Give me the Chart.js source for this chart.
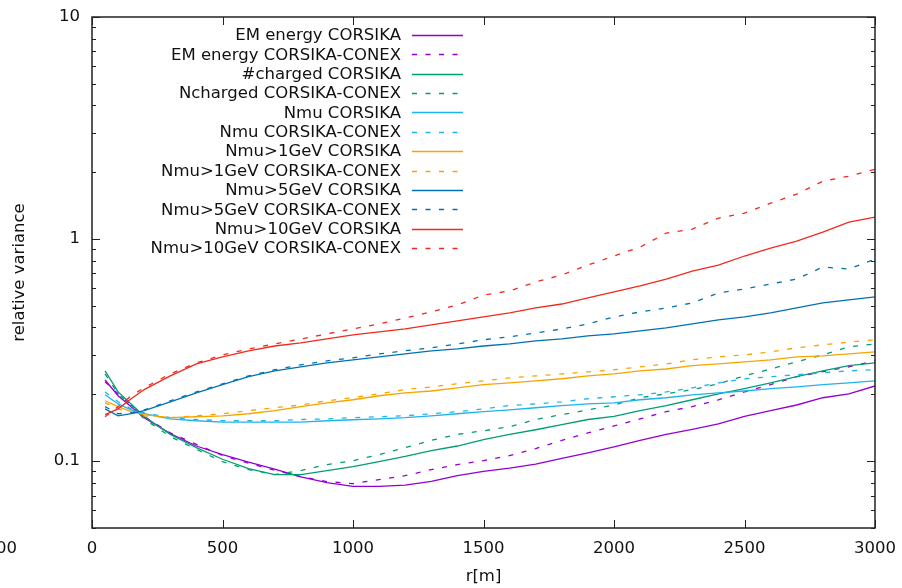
<!DOCTYPE html>
<html><head><meta charset="utf-8">
<script src="https://cdn.jsdelivr.net/npm/chart.js@4"></script>
<style>html,body{margin:0;padding:0;background:#fff}canvas{display:block}</style>
</head><body>
<canvas id="c" width="902" height="588"></canvas>
<script>
const radius = [50,100,150,200,300,400,500,600,700,800,900,1000,1100,1200,1300,1400,1500,1600,1700,1800,1900,2000,2100,2200,2300,2400,2500,2600,2700,2800,2900,3000];

const emCorsika      = [0.232,0.197,0.176,0.157,0.133,0.117,0.107,0.099,0.092,0.085,0.080,0.077,0.077,0.078,0.081,0.086,0.090,0.093,0.097,0.103,0.109,0.116,0.124,0.132,0.139,0.147,0.159,0.169,0.179,0.193,0.201,0.218];
const emConex        = [0.228,0.201,0.179,0.159,0.134,0.119,0.106,0.098,0.091,0.0852,0.0809,0.0792,0.0826,0.086,0.0916,0.0965,0.1005,0.106,0.114,0.124,0.134,0.144,0.155,0.167,0.176,0.189,0.205,0.221,0.240,0.253,0.266,0.283];
const chCorsika      = [0.255,0.205,0.181,0.159,0.132,0.115,0.102,0.0925,0.087,0.087,0.0907,0.0945,0.0995,0.105,0.1115,0.117,0.125,0.132,0.1385,0.146,0.154,0.159,0.169,0.178,0.189,0.201,0.212,0.225,0.240,0.255,0.269,0.277];
const chConex        = [0.247,0.201,0.178,0.155,0.129,0.113,0.0995,0.0916,0.087,0.0907,0.0965,0.1005,0.107,0.115,0.124,0.132,0.137,0.143,0.154,0.162,0.170,0.179,0.193,0.201,0.210,0.223,0.242,0.260,0.280,0.301,0.327,0.337];
const muCorsika      = [0.199,0.181,0.170,0.1635,0.155,0.152,0.150,0.150,0.150,0.150,0.152,0.1536,0.155,0.157,0.160,0.1635,0.167,0.170,0.174,0.178,0.181,0.183,0.189,0.193,0.199,0.203,0.207,0.212,0.216,0.221,0.225,0.230];
const muConex        = [0.205,0.185,0.172,0.165,0.157,0.154,0.152,0.152,0.152,0.154,0.155,0.157,0.1585,0.160,0.1635,0.167,0.172,0.178,0.181,0.185,0.191,0.195,0.199,0.205,0.214,0.225,0.235,0.240,0.245,0.250,0.255,0.258];
const mu1Corsika     = [0.187,0.176,0.167,0.162,0.157,0.1585,0.160,0.1635,0.169,0.176,0.183,0.189,0.197,0.203,0.207,0.214,0.221,0.225,0.230,0.235,0.242,0.247,0.255,0.260,0.269,0.274,0.280,0.286,0.295,0.298,0.304,0.3105];
const mu1Conex       = [0.183,0.172,0.165,0.160,0.157,0.160,0.1635,0.169,0.174,0.179,0.187,0.193,0.201,0.210,0.216,0.223,0.230,0.237,0.242,0.247,0.2525,0.258,0.266,0.274,0.286,0.295,0.301,0.3105,0.324,0.334,0.344,0.352];
const mu5Corsika     = [0.172,0.160,0.1635,0.169,0.185,0.203,0.221,0.240,0.255,0.266,0.277,0.286,0.295,0.304,0.314,0.320,0.330,0.337,0.348,0.355,0.3665,0.374,0.386,0.398,0.415,0.4325,0.446,0.465,0.4895,0.516,0.532,0.549];
const mu5Conex       = [0.176,0.1635,0.165,0.170,0.187,0.205,0.223,0.242,0.258,0.2715,0.283,0.292,0.304,0.314,0.324,0.337,0.352,0.363,0.378,0.394,0.415,0.446,0.470,0.4895,0.516,0.572,0.596,0.628,0.661,0.748,0.733,0.813];
const mu10Corsika    = [0.162,0.172,0.191,0.210,0.242,0.274,0.295,0.314,0.330,0.341,0.355,0.370,0.382,0.394,0.411,0.428,0.446,0.465,0.4895,0.510,0.543,0.578,0.615,0.661,0.718,0.764,0.839,0.911,0.980,1.075,1.192,1.256];
const mu10Conex      = [0.1585,0.176,0.197,0.214,0.247,0.277,0.301,0.320,0.337,0.355,0.374,0.394,0.415,0.441,0.470,0.505,0.560,0.584,0.641,0.689,0.764,0.839,0.920,1.064,1.109,1.243,1.309,1.451,1.593,1.823,1.919,2.064];

const seriesNames = ['EM energy CORSIKA','EM energy CORSIKA-CONEX','#charged CORSIKA','Ncharged CORSIKA-CONEX','Nmu CORSIKA','Nmu CORSIKA-CONEX','Nmu>1GeV CORSIKA','Nmu>1GeV CORSIKA-CONEX','Nmu>5GeV CORSIKA','Nmu>5GeV CORSIKA-CONEX','Nmu>10GeV CORSIKA','Nmu>10GeV CORSIKA-CONEX'];
const seriesValues = [emCorsika, emConex, chCorsika, chConex, muCorsika, muConex, mu1Corsika, mu1Conex, mu5Corsika, mu5Conex, mu10Corsika, mu10Conex];
const xTickValues = [0,500,1000,1500,2000,2500,3000];
const yTickValues = [0.1,1,10];
const xTitle = 'r[m]';
const yTitle = 'relative variance';

const palette = ['#9400d3','#9400d3','#009e73','#009e73','#1fb4ec','#1fb4ec','#f7a400','#f7a400','#0072b2','#0072b2','#f02a1c','#f02a1c'];
const DASH = [5, 8.5];
const FONT = {family: "'DejaVu Sans', sans-serif", size: 16.5};
const TXT = '#111';

const datasets = seriesNames.map((name, i) => ({
  label: name,
  data: radius.map((r, k) => ({x: r, y: seriesValues[i][k]})),
  borderColor: palette[i],
  borderWidth: 1.3,
  borderDash: (i % 2 === 1) ? DASH : [],
  pointRadius: 0,
  fill: false,
  tension: 0,
  order: -i
}));

const noPad = s => { s.paddingTop = 0; s.paddingBottom = 0; s.paddingLeft = 0; s.paddingRight = 0; };

const framePlugin = {
  id: 'frame',
  afterDraw(chart) {
    const {ctx, chartArea: {left, top, right, bottom}, scales: {x, y}} = chart;
    ctx.save();
    ctx.strokeStyle = '#222';
    ctx.lineWidth = 1;
    const seg = (x1, y1, x2, y2) => { ctx.beginPath(); ctx.moveTo(x1, y1); ctx.lineTo(x2, y2); ctx.stroke(); };
    xTickValues.forEach(v => {
      const p = Math.round(x.getPixelForValue(v)) + 0.5;
      seg(p, bottom, p, bottom - 8);
      seg(p, top, p, top + 8);
    });
    yTickValues.forEach(v => {
      const p = Math.round(y.getPixelForValue(v)) + 0.5;
      seg(left, p, left + 8, p);
      seg(right, p, right - 8, p);
    });
    [0.01, 0.1, 1].forEach(d => {
      for (let k = 2; k <= 9; k++) {
        const v = k * d;
        if (v < 0.05 - 1e-9 || v > 10) continue;
        const p = Math.round(y.getPixelForValue(v)) + 0.5;
        seg(left, p, left + 4, p);
        seg(right, p, right - 4, p);
      }
    });
    ctx.lineWidth = 1.5;
    ctx.strokeRect(left, top, right - left, bottom - top);

    // legend
    ctx.font = `${FONT.size}px ${FONT.family}`;
    ctx.fillStyle = TXT;
    ctx.textAlign = 'right';
    ctx.textBaseline = 'middle';
    chart.data.datasets.forEach((ds, i) => {
      const yy = 35 + i * 19.36;
      ctx.fillText(ds.label, 401, yy + 1);
      ctx.strokeStyle = ds.borderColor;
      ctx.lineWidth = 1.3;
      ctx.setLineDash(ds.borderDash);
      seg(412, Math.round(yy) + 0.5, 463, Math.round(yy) + 0.5);
      ctx.setLineDash([]);
    });
    // partially visible label at the far left of the x tick row
    ctx.textAlign = 'right';
    ctx.fillText('500', 17, 549);
    ctx.restore();
  }
};

new Chart(document.getElementById('c').getContext('2d'), {
  type: 'line',
  data: {datasets},
  plugins: [framePlugin],
  options: {
    responsive: false,
    animation: false,
    devicePixelRatio: 1,
    layout: {padding: {top: 17, right: 27, left: 0, bottom: 0}},
    plugins: {legend: {display: false}, tooltip: {enabled: false}},
    scales: {
      x: {
        type: 'linear', min: 0, max: 3000,
        afterBuildTicks: s => { s.ticks = xTickValues.map(v => ({value: v})); },
        afterFit: s => { s.height = 60; noPad(s); },
        grid: {display: false, drawTicks: false},
        border: {display: false},
        ticks: {font: FONT, color: TXT, padding: 11, maxRotation: 0, autoSkip: false, callback: v => String(v)},
        title: {display: true, text: xTitle, font: FONT, color: TXT, padding: {top: 0, bottom: 1}}
      },
      y: {
        type: 'logarithmic', min: 0.05, max: 10,
        afterBuildTicks: s => { s.ticks = yTickValues.map(v => ({value: v})); },
        afterFit: s => { s.width = 92; noPad(s); },
        grid: {display: false, drawTicks: false},
        border: {display: false},
        ticks: {font: FONT, color: TXT, padding: 12, autoSkip: false, callback: v => String(v)},
        title: {display: true, text: yTitle, font: FONT, color: TXT, padding: {top: 10, bottom: 0}}
      }
    }
  }
});
</script>
</body></html>
